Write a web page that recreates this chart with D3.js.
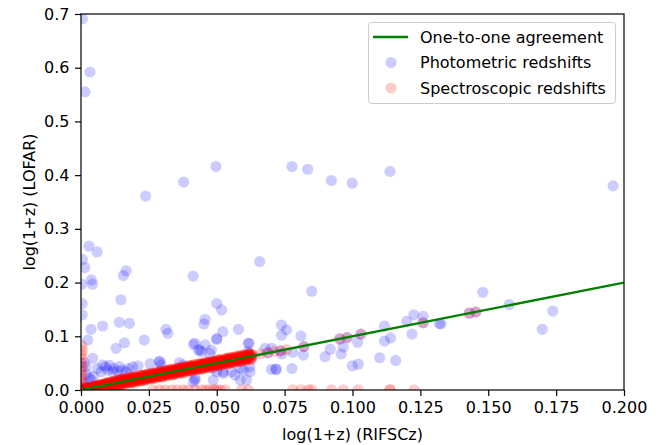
<!DOCTYPE html>
<html>
<head>
<meta charset="utf-8">
<script src="https://cdn.jsdelivr.net/npm/d3@7"></script>
<style>
  html, body { margin: 0; padding: 0; background: #fff; }
  svg { display: block; font-family: "DejaVu Sans", sans-serif; }
</style>
</head>
<body>
<svg id="chart" width="664" height="445"></svg>
<script>
// Photometric redshifts: log(1+z) RIFSCz vs log(1+z) LOFAR
const photX = [
  0.0005, 0.0033, 0.0015, 0.0238, 0.0378, 0.0497, 0.0777, 0.0835, 0.0922, 0.0999, 0.1138, 0.196,
  0.0029, 0.0059, 0.0005, 0.0014, 0.0658, 0.0166, 0.0156, 0.0413, 0.0038, 0.0002, 0.0042,
  0.085, 0.148, 0.1577, 0.1738, 0.1699, 0.1326,
  0.0147, 0.0004, 0.0004, 0.0141, 0.0178, 0.008, 0.0037, 0.0025, 0.0233, 0.016, 0.0129, 0.0313, 0.032,
  0.05, 0.0518, 0.0457, 0.0453, 0.0522, 0.058, 0.0414, 0.05, 0.0616, 0.0457, 0.048, 0.0438, 0.029,
  0.0702, 0.0598, 0.0622, 0.061, 0.0524, 0.0487, 0.042, 0.0738, 0.0757, 0.0739, 0.081,
  0.078, 0.0739, 0.0819, 0.0777, 0.0717, 0.0702, 0.0899, 0.0918, 0.0958, 0.0966, 0.0999, 0.1021,
  0.1019, 0.1118, 0.114, 0.1118, 0.11, 0.1159, 0.12, 0.1226, 0.126, 0.132, 0.1219, 0.0678,
  0.0821, 0.0953, 0.098, 0.1031, 0.126, 0.143, 0.1454, 0.0688, 0.0735,
  0.008, 0.0098, 0.0117, 0.0141, 0.0153, 0.0166, 0.0074, 0.0012, 0.0018, 0.003, 0.0037, 0.0043,
  0.0288, 0.0295, 0.0362, 0.0377, 0.042, 0.0414, 0.0487, 0.05, 0.0524, 0.0555, 0.0567, 0.0586,
  0.0622, 0.0586, 0.072, 0.0432, 0.0444, 0.0475, 0.042, 0.05, 0.0619, 0.0616,
  0.0015, 0.002, 0.0045, 0.006, 0.009, 0.0105, 0.012, 0.0135, 0.0175, 0.019, 0.021, 0.0255
];
const photY = [
  0.691, 0.592, 0.555, 0.361, 0.387, 0.416, 0.416, 0.411, 0.390, 0.385, 0.407, 0.380,
  0.268, 0.257, 0.243, 0.228, 0.239, 0.222, 0.213, 0.212, 0.205, 0.197, 0.197,
  0.184, 0.182, 0.159, 0.147, 0.113, 0.123,
  0.168, 0.161, 0.140, 0.126, 0.124, 0.119, 0.113, 0.093, 0.093, 0.088, 0.0776, 0.113, 0.1056,
  0.161, 0.149, 0.1317, 0.123, 0.1086, 0.113, 0.085, 0.094, 0.087, 0.084, 0.0745, 0.0745, 0.053,
  0.0776, 0.037, 0.043, 0.0186, 0.031, 0.0186, 0.0186, 0.121, 0.112, 0.102, 0.1006,
  0.070, 0.067, 0.065, 0.040, 0.0385, 0.0385, 0.062, 0.076, 0.067, 0.080, 0.045, 0.048,
  0.089, 0.119, 0.097, 0.091, 0.060, 0.055, 0.128, 0.140, 0.137, 0.1235, 0.104, 0.0776,
  0.0807, 0.095, 0.0975, 0.104, 0.125, 0.143, 0.145, 0.0692, 0.0728,
  0.0466, 0.037, 0.034, 0.0434, 0.037, 0.034, 0.034, 0.050, 0.0434, 0.022, 0.0186, 0.059,
  0.053, 0.0466, 0.051, 0.0466, 0.022, 0.0155, 0.0404, 0.034, 0.034, 0.034, 0.028, 0.0404,
  0.034, 0.0186, 0.0385, 0.0745, 0.0713, 0.068, 0.087, 0.096, 0.087, 0.0713,
  0.012, 0.030, 0.025, 0.040, 0.043, 0.046, 0.040, 0.035, 0.040, 0.043, 0.045, 0.049
];

// Spectroscopic redshifts lying along the one-to-one relation
const specBandX = [
  0.0004, 0.0008, 0.0012, 0.0016, 0.0020, 0.0024, 0.0028, 0.0032, 0.0036, 0.0040,
  0.0044, 0.0048, 0.0052, 0.0056, 0.0060, 0.0064, 0.0068, 0.0072, 0.0076, 0.0080,
  0.0084, 0.0088, 0.0092, 0.0096, 0.0100, 0.0104, 0.0108, 0.0112, 0.0116, 0.0120,
  0.0124, 0.0128, 0.0132, 0.0136, 0.0140, 0.0144, 0.0148, 0.0152, 0.0156, 0.0160,
  0.0164, 0.0168, 0.0172, 0.0176, 0.0180, 0.0184, 0.0188, 0.0192, 0.0196, 0.0200,
  0.0204, 0.0208, 0.0212, 0.0216, 0.0220, 0.0224, 0.0228, 0.0232, 0.0236, 0.0240,
  0.0244, 0.0248, 0.0252, 0.0256, 0.0260, 0.0264, 0.0268, 0.0272, 0.0276, 0.0280,
  0.0284, 0.0288, 0.0292, 0.0296, 0.0300, 0.0304, 0.0308, 0.0312, 0.0316, 0.0320,
  0.0324, 0.0328, 0.0332, 0.0336, 0.0340, 0.0344, 0.0348, 0.0352, 0.0356, 0.0360,
  0.0364, 0.0368, 0.0372, 0.0376, 0.0380, 0.0384, 0.0388, 0.0392, 0.0396, 0.0400,
  0.0404, 0.0408, 0.0412, 0.0416, 0.0420, 0.0424, 0.0428, 0.0432, 0.0436, 0.0440,
  0.0444, 0.0448, 0.0452, 0.0456, 0.0460, 0.0464, 0.0468, 0.0472, 0.0476, 0.0480,
  0.0484, 0.0488, 0.0492, 0.0496, 0.0500, 0.0504, 0.0508, 0.0512, 0.0516, 0.0520,
  0.0524, 0.0528, 0.0532, 0.0536, 0.0540, 0.0544, 0.0548, 0.0552, 0.0556, 0.0560,
  0.0564, 0.0568, 0.0572, 0.0576, 0.0580, 0.0584, 0.0588, 0.0592, 0.0596, 0.0600,
  0.0604, 0.0608, 0.0612, 0.0616, 0.0620, 0.0624, 0.0628,
  0.0006, 0.0010, 0.0014, 0.0018, 0.0022, 0.0026, 0.0030, 0.0034, 0.0038, 0.0042,
  0.0046, 0.0050, 0.0054, 0.0058, 0.0062, 0.0066, 0.0070, 0.0074, 0.0078, 0.0082,
  0.0086, 0.0090, 0.0094, 0.0098, 0.0102, 0.0106, 0.0110, 0.0114, 0.0118, 0.0122,
  0.0126, 0.0130, 0.0134, 0.0138, 0.0142, 0.0146, 0.0150, 0.0154, 0.0158, 0.0162,
  0.0166, 0.0170, 0.0174, 0.0178, 0.0182, 0.0186, 0.0190, 0.0194, 0.0198, 0.0202,
  0.0206, 0.0210, 0.0214, 0.0218, 0.0222, 0.0226, 0.0230, 0.0234, 0.0238, 0.0242,
  0.0246, 0.0250, 0.0254, 0.0258, 0.0262, 0.0266, 0.0270, 0.0274, 0.0278, 0.0282,
  0.0286, 0.0290, 0.0294, 0.0298, 0.0302, 0.0306, 0.0310, 0.0314, 0.0318, 0.0322,
  0.0326, 0.0330, 0.0334, 0.0338, 0.0342, 0.0346, 0.0350, 0.0354, 0.0358, 0.0362,
  0.0366, 0.0370, 0.0374, 0.0378, 0.0382, 0.0386, 0.0390, 0.0394, 0.0398, 0.0402,
  0.0406, 0.0410, 0.0414, 0.0418, 0.0422, 0.0426, 0.0430, 0.0434, 0.0438, 0.0442,
  0.0446, 0.0450, 0.0454, 0.0458, 0.0462, 0.0466, 0.0470, 0.0474, 0.0478, 0.0482,
  0.0486, 0.0490, 0.0494, 0.0498, 0.0502, 0.0506, 0.0510, 0.0514, 0.0518, 0.0522,
  0.0526, 0.0530, 0.0534, 0.0538, 0.0542, 0.0546, 0.0550, 0.0554, 0.0558, 0.0562,
  0.0566, 0.0570, 0.0574, 0.0578, 0.0582, 0.0586, 0.0590, 0.0594, 0.0598, 0.0602,
  0.0606, 0.0610, 0.0614, 0.0618, 0.0622, 0.0626, 0.0630,
  0.0005, 0.0009, 0.0013, 0.0017, 0.0021, 0.0025, 0.0029, 0.0033, 0.0037, 0.0041,
  0.0045, 0.0049, 0.0053, 0.0057, 0.0061, 0.0065, 0.0069, 0.0073, 0.0077, 0.0081,
  0.0085, 0.0089, 0.0093, 0.0097, 0.0101, 0.0105, 0.0109, 0.0113, 0.0117, 0.0121,
  0.0125, 0.0129, 0.0133, 0.0137, 0.0141, 0.0145, 0.0149, 0.0153, 0.0157, 0.0161,
  0.0165, 0.0169, 0.0173, 0.0177, 0.0181, 0.0185, 0.0189, 0.0193, 0.0197, 0.0201,
  0.0205, 0.0209, 0.0213, 0.0217, 0.0221, 0.0225, 0.0229, 0.0233, 0.0237, 0.0241,
  0.0245, 0.0249, 0.0253, 0.0257, 0.0261, 0.0265, 0.0269, 0.0273, 0.0277, 0.0281,
  0.0285, 0.0289, 0.0293, 0.0297, 0.0301, 0.0305, 0.0309, 0.0313, 0.0317, 0.0321,
  0.0325, 0.0329, 0.0333, 0.0337, 0.0341, 0.0345, 0.0349, 0.0353, 0.0357, 0.0361,
  0.0365, 0.0369, 0.0373, 0.0377, 0.0381, 0.0385, 0.0389, 0.0393, 0.0397, 0.0401,
  0.0405, 0.0409, 0.0413, 0.0417, 0.0421, 0.0425, 0.0429, 0.0433, 0.0437, 0.0441,
  0.0445, 0.0449, 0.0453, 0.0457, 0.0461, 0.0465, 0.0469, 0.0473, 0.0477, 0.0481,
  0.0485, 0.0489, 0.0493, 0.0497, 0.0501, 0.0505, 0.0509, 0.0513, 0.0517, 0.0521,
  0.0525, 0.0529, 0.0533, 0.0537, 0.0541, 0.0545, 0.0549, 0.0553, 0.0557, 0.0561,
  0.0565, 0.0569, 0.0573, 0.0577, 0.0581, 0.0585, 0.0589, 0.0593, 0.0597, 0.0601,
  0.0605, 0.0609, 0.0613, 0.0617, 0.0621, 0.0625, 0.0629,
  0.0007, 0.0011, 0.0015, 0.0019, 0.0023, 0.0027, 0.0031, 0.0035, 0.0039, 0.0043,
  0.0047, 0.0051, 0.0055, 0.0059, 0.0063, 0.0067, 0.0071, 0.0075, 0.0079, 0.0083,
  0.0087, 0.0091, 0.0095, 0.0099, 0.0103, 0.0107, 0.0111, 0.0115, 0.0119, 0.0123,
  0.0127, 0.0131, 0.0135, 0.0139, 0.0143, 0.0147, 0.0151, 0.0155, 0.0159, 0.0163,
  0.0167, 0.0171, 0.0175, 0.0179, 0.0183, 0.0187, 0.0191, 0.0195, 0.0199, 0.0203,
  0.0207, 0.0211, 0.0215, 0.0219, 0.0223, 0.0227, 0.0231, 0.0235, 0.0239, 0.0243,
  0.0247, 0.0251, 0.0255, 0.0259, 0.0263, 0.0267, 0.0271, 0.0275, 0.0279, 0.0283,
  0.0287, 0.0291, 0.0295, 0.0299, 0.0303, 0.0307, 0.0311, 0.0315, 0.0319, 0.0323,
  0.0327, 0.0331, 0.0335, 0.0339, 0.0343, 0.0347, 0.0351, 0.0355, 0.0359, 0.0363,
  0.0367, 0.0371, 0.0375, 0.0379, 0.0383, 0.0387, 0.0391, 0.0395, 0.0399, 0.0403,
  0.0407, 0.0411, 0.0415, 0.0419, 0.0423, 0.0427, 0.0431, 0.0435, 0.0439, 0.0443,
  0.0447, 0.0451, 0.0455, 0.0459, 0.0463, 0.0467, 0.0471, 0.0475, 0.0479, 0.0483,
  0.0487, 0.0491, 0.0495, 0.0499, 0.0503, 0.0507, 0.0511, 0.0515, 0.0519, 0.0523,
  0.0527, 0.0531, 0.0535, 0.0539, 0.0543, 0.0547, 0.0551, 0.0555, 0.0559, 0.0563,
  0.0567, 0.0571, 0.0575, 0.0579, 0.0583, 0.0587, 0.0591, 0.0595, 0.0599, 0.0603,
  0.0607, 0.0611, 0.0615, 0.0619, 0.0623, 0.0627, 0.0631
];
const specBandY = [
  0.0012, 0.0004, 0.0024, 0.0016, 0.0012, 0.0028, 0.0016, 0.0040, 0.0036, 0.0036,
  0.0062, 0.0036, 0.0058, 0.0032, 0.0072, 0.0064, 0.0092, 0.0066, 0.0058, 0.0086,
  0.0100, 0.0080, 0.0116, 0.0096, 0.0084, 0.0112, 0.0084, 0.0128, 0.0116, 0.0112,
  0.0154, 0.0108, 0.0142, 0.0096, 0.0160, 0.0144, 0.0188, 0.0142, 0.0126, 0.0170,
  0.0184, 0.0158, 0.0202, 0.0176, 0.0160, 0.0194, 0.0158, 0.0212, 0.0196, 0.0190,
  0.0234, 0.0188, 0.0222, 0.0176, 0.0240, 0.0224, 0.0268, 0.0222, 0.0206, 0.0250,
  0.0264, 0.0238, 0.0282, 0.0256, 0.0240, 0.0274, 0.0238, 0.0292, 0.0276, 0.0270,
  0.0314, 0.0268, 0.0302, 0.0256, 0.0320, 0.0304, 0.0348, 0.0302, 0.0286, 0.0330,
  0.0344, 0.0318, 0.0362, 0.0336, 0.0320, 0.0354, 0.0318, 0.0372, 0.0356, 0.0350,
  0.0394, 0.0348, 0.0382, 0.0336, 0.0400, 0.0384, 0.0428, 0.0382, 0.0366, 0.0410,
  0.0424, 0.0398, 0.0442, 0.0416, 0.0400, 0.0434, 0.0398, 0.0452, 0.0436, 0.0430,
  0.0474, 0.0428, 0.0462, 0.0416, 0.0480, 0.0464, 0.0508, 0.0462, 0.0446, 0.0490,
  0.0504, 0.0478, 0.0522, 0.0496, 0.0480, 0.0514, 0.0478, 0.0532, 0.0516, 0.0510,
  0.0554, 0.0508, 0.0542, 0.0496, 0.0560, 0.0544, 0.0588, 0.0542, 0.0526, 0.0570,
  0.0584, 0.0558, 0.0602, 0.0576, 0.0560, 0.0594, 0.0558, 0.0612, 0.0596, 0.0590,
  0.0634, 0.0588, 0.0622, 0.0576, 0.0640, 0.0624, 0.0638,
  0.0002, 0.0016, 0.0012, 0.0034, 0.0008, 0.0036, 0.0032, 0.0018, 0.0050, 0.0036,
  0.0073, 0.0038, 0.0060, 0.0043, 0.0071, 0.0063, 0.0094, 0.0053, 0.0093, 0.0085,
  0.0054, 0.0114, 0.0082, 0.0134, 0.0086, 0.0114, 0.0090, 0.0126, 0.0114, 0.0154,
  0.0091, 0.0155, 0.0139, 0.0098, 0.0172, 0.0131, 0.0195, 0.0134, 0.0168, 0.0137,
  0.0181, 0.0165, 0.0214, 0.0143, 0.0207, 0.0191, 0.0150, 0.0224, 0.0183, 0.0247,
  0.0186, 0.0220, 0.0189, 0.0233, 0.0217, 0.0266, 0.0195, 0.0259, 0.0243, 0.0202,
  0.0276, 0.0235, 0.0299, 0.0238, 0.0272, 0.0241, 0.0285, 0.0269, 0.0318, 0.0247,
  0.0311, 0.0295, 0.0254, 0.0328, 0.0287, 0.0351, 0.0290, 0.0324, 0.0293, 0.0337,
  0.0321, 0.0370, 0.0299, 0.0363, 0.0347, 0.0306, 0.0380, 0.0339, 0.0403, 0.0342,
  0.0376, 0.0345, 0.0389, 0.0373, 0.0422, 0.0351, 0.0415, 0.0399, 0.0358, 0.0432,
  0.0391, 0.0455, 0.0394, 0.0428, 0.0397, 0.0441, 0.0425, 0.0474, 0.0403, 0.0467,
  0.0451, 0.0410, 0.0484, 0.0443, 0.0507, 0.0446, 0.0480, 0.0449, 0.0493, 0.0477,
  0.0526, 0.0455, 0.0519, 0.0503, 0.0462, 0.0536, 0.0495, 0.0559, 0.0498, 0.0532,
  0.0501, 0.0545, 0.0529, 0.0578, 0.0507, 0.0571, 0.0555, 0.0514, 0.0588, 0.0547,
  0.0611, 0.0550, 0.0584, 0.0553, 0.0597, 0.0581, 0.0630, 0.0559, 0.0623, 0.0607,
  0.0566, 0.0640, 0.0599, 0.0663, 0.0602, 0.0636, 0.0605,
  0.0020, 0.0002, 0.0022, 0.0004, 0.0038, 0.0019, 0.0042, 0.0016, 0.0040, 0.0031,
  0.0065, 0.0074, 0.0028, 0.0072, 0.0039, 0.0093, 0.0059, 0.0096, 0.0050, 0.0086,
  0.0059, 0.0119, 0.0131, 0.0059, 0.0124, 0.0071, 0.0150, 0.0098, 0.0151, 0.0080,
  0.0135, 0.0094, 0.0173, 0.0187, 0.0091, 0.0175, 0.0104, 0.0208, 0.0137, 0.0206,
  0.0110, 0.0179, 0.0138, 0.0217, 0.0231, 0.0135, 0.0219, 0.0148, 0.0252, 0.0181,
  0.0250, 0.0154, 0.0223, 0.0182, 0.0261, 0.0275, 0.0179, 0.0263, 0.0192, 0.0296,
  0.0225, 0.0294, 0.0198, 0.0267, 0.0226, 0.0305, 0.0319, 0.0223, 0.0307, 0.0236,
  0.0340, 0.0269, 0.0338, 0.0242, 0.0311, 0.0270, 0.0349, 0.0363, 0.0267, 0.0351,
  0.0280, 0.0384, 0.0313, 0.0382, 0.0286, 0.0355, 0.0314, 0.0393, 0.0407, 0.0311,
  0.0395, 0.0324, 0.0428, 0.0357, 0.0426, 0.0330, 0.0399, 0.0358, 0.0437, 0.0451,
  0.0355, 0.0439, 0.0368, 0.0472, 0.0401, 0.0470, 0.0374, 0.0443, 0.0402, 0.0481,
  0.0495, 0.0399, 0.0483, 0.0412, 0.0516, 0.0445, 0.0514, 0.0418, 0.0487, 0.0446,
  0.0525, 0.0539, 0.0443, 0.0527, 0.0456, 0.0560, 0.0489, 0.0558, 0.0462, 0.0531,
  0.0490, 0.0569, 0.0583, 0.0487, 0.0571, 0.0500, 0.0604, 0.0533, 0.0602, 0.0506,
  0.0575, 0.0534, 0.0613, 0.0627, 0.0531, 0.0615, 0.0544, 0.0648, 0.0577, 0.0646,
  0.0550, 0.0619, 0.0578, 0.0657, 0.0671, 0.0575, 0.0659,
  0.0002, 0.0025, 0.0003, 0.0027, 0.0014, 0.0042, 0.0019, 0.0035, 0.0056, 0.0028,
  0.0070, 0.0024, 0.0068, 0.0044, 0.0088, 0.0047, 0.0071, 0.0103, 0.0054, 0.0106,
  0.0046, 0.0110, 0.0073, 0.0137, 0.0073, 0.0107, 0.0152, 0.0078, 0.0153, 0.0082,
  0.0152, 0.0101, 0.0185, 0.0099, 0.0143, 0.0202, 0.0101, 0.0200, 0.0104, 0.0188,
  0.0137, 0.0221, 0.0135, 0.0179, 0.0238, 0.0137, 0.0236, 0.0140, 0.0224, 0.0173,
  0.0257, 0.0171, 0.0215, 0.0274, 0.0173, 0.0272, 0.0176, 0.0260, 0.0209, 0.0293,
  0.0207, 0.0251, 0.0310, 0.0209, 0.0308, 0.0212, 0.0296, 0.0245, 0.0329, 0.0243,
  0.0287, 0.0346, 0.0245, 0.0344, 0.0248, 0.0332, 0.0281, 0.0365, 0.0279, 0.0323,
  0.0382, 0.0281, 0.0380, 0.0284, 0.0368, 0.0317, 0.0401, 0.0315, 0.0359, 0.0418,
  0.0317, 0.0416, 0.0320, 0.0404, 0.0353, 0.0437, 0.0351, 0.0395, 0.0454, 0.0353,
  0.0452, 0.0356, 0.0440, 0.0389, 0.0473, 0.0387, 0.0431, 0.0490, 0.0389, 0.0488,
  0.0392, 0.0476, 0.0425, 0.0509, 0.0423, 0.0467, 0.0526, 0.0425, 0.0524, 0.0428,
  0.0512, 0.0461, 0.0545, 0.0459, 0.0503, 0.0562, 0.0461, 0.0560, 0.0464, 0.0548,
  0.0497, 0.0581, 0.0495, 0.0539, 0.0598, 0.0497, 0.0596, 0.0500, 0.0584, 0.0533,
  0.0617, 0.0531, 0.0575, 0.0634, 0.0533, 0.0632, 0.0536, 0.0620, 0.0569, 0.0653,
  0.0567, 0.0611, 0.0670, 0.0569, 0.0668, 0.0572, 0.0656
];

// Other spectroscopic redshifts: sparse points on the relation and the two near-zero rows
const specX = [
  0.0662, 0.0688, 0.0712, 0.0735, 0.0757, 0.0821, 0.0953, 0.098, 0.1031, 0.126, 0.143, 0.1454,
  0.0003, 0.0006, 0.0002, 0.0004, 0.0001, 0.0005, 0.0002, 0.0004, 0.0001, 0.0005, 0.0003, 0.0002,
  0.0265, 0.029, 0.031, 0.0335, 0.0355, 0.0377, 0.0395, 0.042, 0.0444, 0.046, 0.0475, 0.049,
  0.050, 0.0512, 0.053, 0.0592, 0.0616, 0.078, 0.081, 0.0837, 0.085, 0.0923, 0.0966, 0.1021,
  0.1138, 0.1138, 0.1227
];
const specY = [
  0.0675, 0.0692, 0.0718, 0.0728, 0.0750, 0.0807, 0.095, 0.0975, 0.104, 0.125, 0.143, 0.145,
  0.083, 0.074, 0.066, 0.058, 0.050, 0.043, 0.036, 0.029, 0.022, 0.016, 0.010, 0.005,
  0.0005, 0.0005, 0.0005, 0.0005, 0.0005, 0.0005, 0.0005, 0.0005, 0.0005, 0.0005, 0.0005, 0.0005,
  0.0005, 0.0005, 0.0005, 0.0005, 0.0005, 0.0005, 0.0005, 0.0005, 0.0005, 0.0005, 0.0005, 0.0005,
  0.0005, 0.0005, 0.0005
];

// One-to-one reference line
const lineX = [0, 0.2];

const xTicks = [0, 0.025, 0.05, 0.075, 0.1, 0.125, 0.15, 0.175, 0.2];
const yTicks = [0, 0.1, 0.2, 0.3, 0.4, 0.5, 0.6, 0.7];

const legendLabels = ["One-to-one agreement", "Photometric redshifts", "Spectroscopic redshifts"];

const svg = d3.select("#chart");
const plotLeft = 81, plotRight = 624, plotTop = 14, plotBottom = 390;
const fontSize = "16px";

const x = d3.scaleLinear().domain([0, 0.2]).range([plotLeft, plotRight]);
const y = d3.scaleLinear().domain([0, 0.7]).range([plotBottom, plotTop]);

svg.append("defs").append("clipPath").attr("id", "plotclip")
  .append("rect").attr("x", plotLeft).attr("y", plotTop)
  .attr("width", plotRight - plotLeft).attr("height", plotBottom - plotTop);

const plot = svg.append("g").attr("clip-path", "url(#plotclip)");
const r = 5.6;

function scatter(xs, ys, color) {
  plot.append("g").selectAll("circle")
    .data(d3.range(xs.length))
    .join("circle")
    .attr("cx", i => x(xs[i]))
    .attr("cy", i => y(ys[i]))
    .attr("r", r)
    .attr("fill", color)
    .attr("fill-opacity", 0.2);
}

scatter(photX, photY, "blue");
scatter(specBandX, specBandY, "red");
scatter(specX, specY, "red");

plot.append("line")
  .attr("x1", x(lineX[0])).attr("y1", y(lineX[0]))
  .attr("x2", x(lineX[1])).attr("y2", y(lineX[1]))
  .attr("stroke", "green").attr("stroke-width", 2.4);

// Axes
const fmt3 = d3.format(".3f");
const fmt1 = d3.format(".1f");

const xAxis = svg.append("g")
  .attr("transform", `translate(0,${plotBottom})`)
  .call(d3.axisBottom(x).tickValues(xTicks).tickFormat(fmt3).tickSize(6).tickPadding(5.5));
const yAxis = svg.append("g")
  .attr("transform", `translate(${plotLeft},0)`)
  .call(d3.axisLeft(y).tickValues(yTicks).tickFormat(fmt1).tickSize(6).tickPadding(5.5));

[xAxis, yAxis].forEach(a => {
  a.select(".domain").remove();
  a.selectAll(".tick line").attr("stroke", "#000").attr("stroke-width", 1.2);
  a.selectAll(".tick text").attr("fill", "#000").style("font-size", fontSize)
    .style("font-family", "'DejaVu Sans', sans-serif");
});

// Frame
svg.append("rect")
  .attr("x", plotLeft).attr("y", plotTop)
  .attr("width", plotRight - plotLeft).attr("height", plotBottom - plotTop)
  .attr("fill", "none").attr("stroke", "#000").attr("stroke-width", 1.2);

// Axis labels
svg.append("text")
  .attr("x", (plotLeft + plotRight) / 2).attr("y", 440)
  .attr("text-anchor", "middle").style("font-size", fontSize)
  .text("log(1+z) (RIFSCz)");
svg.append("text")
  .attr("transform", `translate(35,${(plotTop + plotBottom) / 2}) rotate(-90)`)
  .attr("text-anchor", "middle").style("font-size", fontSize)
  .text("log(1+z) (LOFAR)");

// Legend
const lg = svg.append("g");
lg.append("rect")
  .attr("x", 368.5).attr("y", 22.5).attr("width", 247).attr("height", 81)
  .attr("rx", 3).attr("fill", "#fff").attr("fill-opacity", 0.8)
  .attr("stroke", "#ccc").attr("stroke-width", 1);
lg.append("line")
  .attr("x1", 373).attr("x2", 408).attr("y1", 37).attr("y2", 37)
  .attr("stroke", "green").attr("stroke-width", 2.4);
lg.append("circle").attr("cx", 391).attr("cy", 62.5).attr("r", r)
  .attr("fill", "blue").attr("fill-opacity", 0.2);
lg.append("circle").attr("cx", 391).attr("cy", 88).attr("r", r)
  .attr("fill", "red").attr("fill-opacity", 0.2);
lg.selectAll("text.lab")
  .data(legendLabels)
  .join("text")
  .attr("class", "lab")
  .attr("x", 420)
  .attr("y", (d, i) => 42.5 + i * 25.5)
  .style("font-size", fontSize)
  .text(d => d);
</script>
</body>
</html>
